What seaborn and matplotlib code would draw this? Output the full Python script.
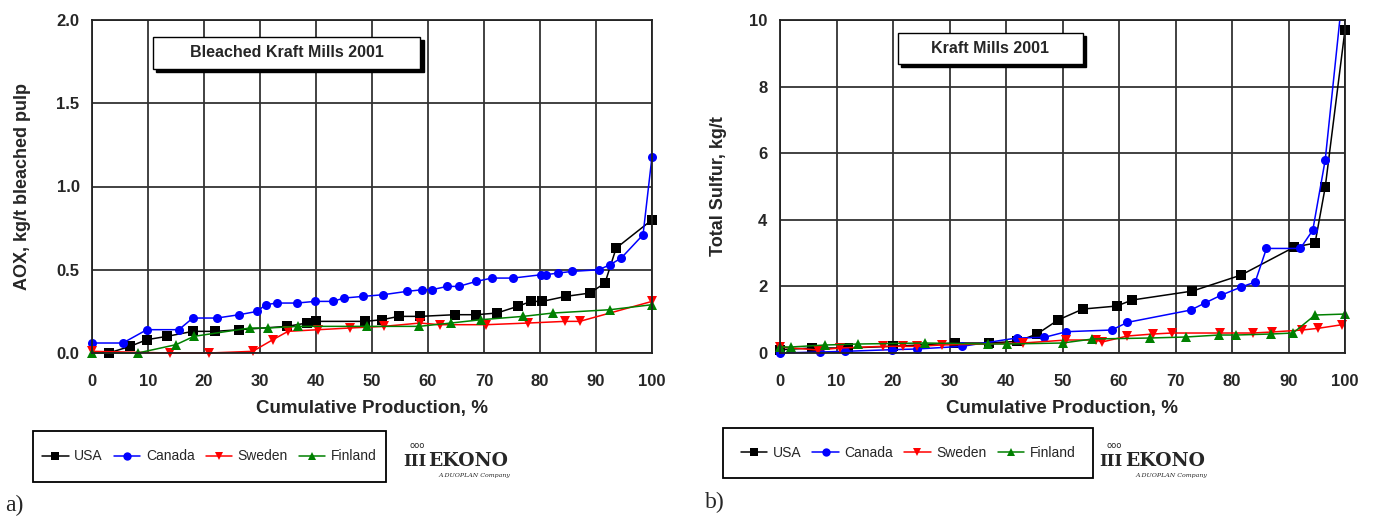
import numpy as np
import pandas as pd
import matplotlib
matplotlib.use("Agg")
import matplotlib.pyplot as plt
import seaborn as sns
from matplotlib.patches import Rectangle
from matplotlib.transforms import Bbox, TransformedBbox

# ---- data: a) AOX, bleached kraft mills 2001 ----
aox_usa_x = [3.0, 6.8, 9.8, 13.4, 18, 22, 26.3, 34.8, 38.4, 40, 48.8, 51.8, 54.8, 58.6, 64.8, 68.6,
             72.3, 76, 78.4, 80.4, 84.6, 88.9, 91.6, 93.6, 100]
aox_usa_y = [0.0, 0.04, 0.08, 0.10, 0.13, 0.13, 0.14, 0.16, 0.18, 0.19, 0.19, 0.20, 0.22, 0.22, 0.23, 0.23,
             0.24, 0.28, 0.31, 0.31, 0.34, 0.36, 0.42, 0.63, 0.80]
aox_can_x = [0, 5.5, 9.8, 15.5, 18, 22.3, 26.3, 29.5, 31, 33, 36.6, 39.8, 43, 45, 48.4, 52, 56.2, 59,
             60.7, 63.4, 65.5, 68.6, 71.4, 75.2, 80.2, 81, 83.2, 85.7, 90.5, 92.5, 94.5, 98.4, 100]
aox_can_y = [0.06, 0.06, 0.14, 0.14, 0.21, 0.21, 0.23, 0.25, 0.29, 0.30, 0.30, 0.31, 0.31, 0.33, 0.34, 0.35,
             0.37, 0.38, 0.38, 0.40, 0.40, 0.43, 0.45, 0.45, 0.47, 0.47, 0.48, 0.49, 0.50, 0.53, 0.57, 0.71, 1.18]
aox_swe_x = [0, 14, 20.9, 28.7, 32.3, 35, 40.4, 46, 52.1, 58.6, 62.1, 70.4, 77.9, 84.5, 87.1, 100]
aox_swe_y = [0.01, 0.0, 0.0, 0.01, 0.08, 0.13, 0.14, 0.15, 0.16, 0.18, 0.17, 0.17, 0.18, 0.19, 0.19, 0.31]
aox_fin_x = [0, 8.2, 15, 18.2, 28.2, 31.4, 36.8, 49.1, 58.4, 64.1, 69.5, 77, 82.3, 92.5, 100]
aox_fin_y = [0.0, 0.0, 0.05, 0.10, 0.15, 0.15, 0.16, 0.16, 0.16, 0.18, 0.20, 0.22, 0.24, 0.26, 0.29]

# ---- data: b) total sulfur, kraft mills 2001 ----
ts_usa_x = [0, 5.7, 12, 20, 31, 37, 42, 45.5, 49.2, 53.6, 59.6, 62.3, 73, 81.6, 91, 94.7, 96.5, 100]
ts_usa_y = [0.1, 0.15, 0.15, 0.2, 0.3, 0.3, 0.35, 0.57, 0.99, 1.32, 1.41, 1.59, 1.86, 2.34, 3.18, 3.30, 4.98, 9.71]
ts_can_x = [0, 7, 11.5, 19.8, 24.2, 32.2, 41.9, 46.8, 50.7, 58.7, 61.5, 72.7, 75.2, 78, 81.6, 84.1, 86.1,
            92.1, 94.3, 96.5, 100]
ts_can_y = [0.0, 0.03, 0.05, 0.10, 0.12, 0.20, 0.45, 0.47, 0.64, 0.69, 0.92, 1.29, 1.50, 1.73, 1.98, 2.13, 3.14,
            3.14, 3.69, 5.80, 11.5]
ts_swe_x = [0, 6.7, 10.6, 18.2, 21.7, 24.2, 28.6, 43, 50.7, 56, 57, 61.5, 66, 69.3, 77.9, 83.7, 87,
            92.4, 95.2, 99.5]
ts_swe_y = [0.18, 0.09, 0.15, 0.20, 0.20, 0.20, 0.24, 0.30, 0.39, 0.39, 0.33, 0.51, 0.57, 0.60, 0.60, 0.60, 0.63,
            0.69, 0.74, 0.85]
ts_fin_x = [0, 1.9, 8, 13.8, 25.6, 36.8, 40.1, 50, 55.3, 65.4, 71.8, 77.7, 80.7, 86.9, 90.8, 94.7, 100]
ts_fin_y = [0.18, 0.18, 0.24, 0.27, 0.30, 0.27, 0.27, 0.30, 0.42, 0.45, 0.48, 0.54, 0.54, 0.57, 0.60, 1.14, 1.17]

countries = ["USA", "Canada", "Sweden", "Finland"]
colors = {"USA": "#000000", "Canada": "#0000FF", "Sweden": "#FF0000", "Finland": "#008000"}
markers = {"USA": "s", "Canada": "o", "Sweden": "v", "Finland": "^"}


def to_frame(series):
    rows = []
    for name, (xs, ys) in zip(countries, series):
        for x, y in zip(xs, ys):
            rows.append({"country": name, "x": x, "y": y})
    return pd.DataFrame(rows)


aox = to_frame([(aox_usa_x, aox_usa_y), (aox_can_x, aox_can_y),
                (aox_swe_x, aox_swe_y), (aox_fin_x, aox_fin_y)])
sulfur = to_frame([(ts_usa_x, ts_usa_y), (ts_can_x, ts_can_y),
                   (ts_swe_x, ts_swe_y), (ts_fin_x, ts_fin_y)])

sns.set_style("white")
plt.rcParams["font.family"] = ["Liberation Sans", "DejaVu Sans"]

fig = plt.figure(figsize=(13.74, 5.19), dpi=100)
ax1 = fig.add_axes([92 / 1374, 166 / 519, 560 / 1374, 333 / 519])
ax2 = fig.add_axes([780 / 1374, 166 / 519, 565 / 1374, 333 / 519])


def draw(ax, df, ymax, ystep, ylabel, ylabelpad, title, box):
    sns.lineplot(data=df, x="x", y="y", hue="country", style="country", hue_order=countries,
                 style_order=countries, palette=colors, markers=markers, dashes=False,
                 estimator=None, sort=False, linewidth=1.1, markersize=6.5, markeredgewidth=0,
                 legend=False, ax=ax)
    # let markers at the edges show, but keep the top clipped
    clip = TransformedBbox(Bbox([[-0.05, -0.05], [1.05, 1.0]]), ax.transAxes)
    for ln in ax.lines:
        ln.set_clip_box(clip)
    ax.set_xlim(0, 100)
    ax.set_ylim(0, ymax)
    ax.set_xticks(np.arange(0, 101, 10))
    ax.set_yticks(np.arange(0, ymax + 0.001, ystep))
    if ystep < 1:
        ax.set_yticklabels([f"{v:.1f}" for v in np.arange(0, ymax + 0.001, ystep)])
    ax.grid(True, color="#333333", linewidth=1.3)
    for s in ax.spines.values():
        s.set_color("#222222")
        s.set_linewidth(1.3)
    ax.tick_params(axis="both", direction="out", length=5, width=1.3, color="#222222",
                   labelsize=12, pad=4)
    ax.tick_params(axis="x", pad=10)
    for t in ax.get_xticklabels() + ax.get_yticklabels():
        t.set_fontweight("bold")
    ax.set_xlabel("Cumulative Production, %", fontsize=13.5, fontweight="bold", labelpad=8)
    ax.set_ylabel(ylabel, fontsize=13, fontweight="bold", labelpad=ylabelpad)

    # title box with drop shadow
    x0, x1, y0, y1 = box
    sh = 0.006
    ax.add_patch(Rectangle((x0 + sh, y0 - sh * 1.6), x1 - x0, y1 - y0, transform=ax.transAxes,
                           facecolor="black", edgecolor="black", zorder=5, clip_on=False))
    ax.add_patch(Rectangle((x0, y0), x1 - x0, y1 - y0, transform=ax.transAxes,
                           facecolor="white", edgecolor="black", linewidth=1.0, zorder=6, clip_on=False))
    ax.text((x0 + x1) / 2, (y0 + y1) / 2, title, transform=ax.transAxes, ha="center", va="center",
            fontsize=11.5, fontweight="bold", zorder=7)


draw(ax1, aox, 2.0, 0.5, "AOX, kg/t bleached pulp", 18, "Bleached Kraft Mills 2001",
     (0.109, 0.586, 0.853, 0.949))
draw(ax2, sulfur, 10, 2, "Total Sulfur, kg/t", 16, "Kraft Mills 2001",
     (0.209, 0.536, 0.868, 0.961))

# legends below each chart, each in a plain black box
handles = [plt.Line2D([], [], color=colors[c], marker=markers[c], markersize=6,
                      markeredgewidth=0, linewidth=1.1) for c in countries]
for (lx, ly, lw, lh) in [(33, 431, 353, 51), (723, 428, 370, 50)]:
    fig.patches.append(Rectangle((lx / 1374, 1 - (ly + lh) / 519), lw / 1374, lh / 519,
                                 transform=fig.transFigure, facecolor="white",
                                 edgecolor="black", linewidth=1.3))
    fig.legend(handles, countries, loc="center",
               bbox_to_anchor=((lx + lw / 2) / 1374, 1 - (ly + lh / 2) / 519),
               ncol=4, frameon=False, fontsize=10, handlelength=1.9,
               handletextpad=0.4, columnspacing=0.8, borderpad=0.1)

# EKONO logos
for ix in (426, 1123):
    fig.text(ix / 1374, 1 - 461 / 519, "III", fontsize=12, fontweight="bold",
             family="DejaVu Serif", ha="right", va="center")
    fig.text((ix - 9) / 1374, 1 - 445 / 519, "ooo", fontsize=6, family="DejaVu Sans",
             ha="center", va="center")
    fig.text((ix + 2) / 1374, 1 - 461 / 519, "EKONO", fontsize=13.5, fontweight="bold",
             family="DejaVu Serif", ha="left", va="center")
    fig.text((ix + 12) / 1374, 1 - 475 / 519, "A DUOPLAN Company", fontsize=4.5, style="italic",
             family="DejaVu Serif", ha="left", va="center")

# panel labels
fig.text(5 / 1374, 1 - 505 / 519, "a)", fontsize=17, family="Liberation Serif", va="center")
fig.text(705 / 1374, 1 - 502 / 519, "b)", fontsize=17, family="Liberation Serif", va="center")

fig.savefig("out.png", dpi=100, facecolor="white")
